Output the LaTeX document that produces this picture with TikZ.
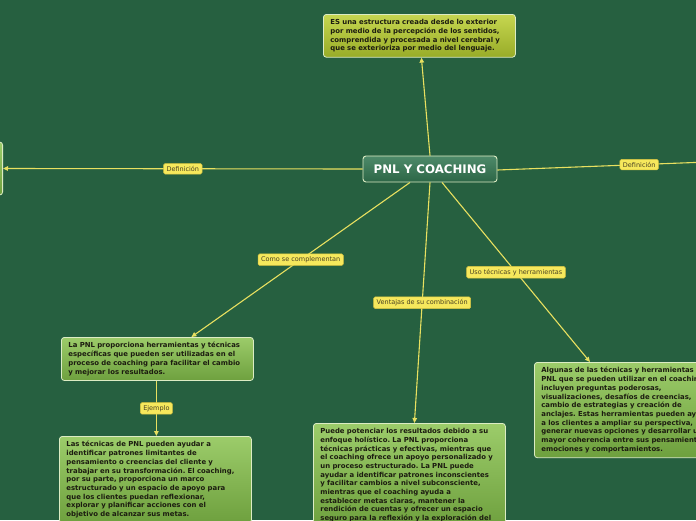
\documentclass[tikz,border=0pt]{standalone}
\usepackage{fontspec}
\setmainfont{DejaVu Sans}
\usetikzlibrary{arrows.meta}
\definecolor{board}{HTML}{266040}
\definecolor{wire}{HTML}{E8E060}
\definecolor{ink}{HTML}{1C1C10}
\definecolor{tagfill}{HTML}{F6E85C}
\definecolor{tagrim}{HTML}{D8C440}
\definecolor{tagink}{HTML}{4A4222}
\definecolor{oliveA}{HTML}{C6D650}
\definecolor{oliveB}{HTML}{98AC28}
\definecolor{leafA}{HTML}{9CCC6A}
\definecolor{leafB}{HTML}{6EA03E}
\definecolor{hubA}{HTML}{4E8A6A}
\definecolor{hubB}{HTML}{2C6646}
\definecolor{rim}{HTML}{DCECC4}
\frenchspacing

\begin{document}
\begin{tikzpicture}[x=1pt, y=-1pt, line width=1.1pt,
  note/.style={anchor=north west, text width=178pt, inner xsep=7pt, inner ysep=5pt,
    align=left, text=ink, rounded corners=3pt, draw=rim, line width=0.8pt,
    font=\fontsize{6.9}{8.7}\selectfont\bfseries},
  olive/.style={note, top color=oliveA, bottom color=oliveB},
  leaf/.style={note, top color=leafA, bottom color=leafB},
  tag/.style={fill=tagfill, draw=tagrim, line width=0.5pt, rounded corners=1.5pt,
    text=tagink, inner xsep=3pt, inner ysep=2.6pt, font=\fontsize{6.5}{7}\selectfont},
  link/.style={wire, -{Triangle[length=5pt,width=4.5pt]}}]
  \fill[board] (0,0) rectangle (696,520);
  \useasboundingbox (0,0) rectangle (696,520);
  \clip (0,0) rectangle (696,520);

  % central topic
  \node[top color=hubA, bottom color=hubB, draw=rim, line width=0.9pt, rounded corners=3pt,
    minimum width=134pt, minimum height=26pt, text=white,
    font=\fontsize{11.8}{13}\selectfont\bfseries] (hub) at (430,169) {PNL Y COACHING};

  % branches
  \node[olive] (deftop) at (323,14) {ES una estructura creada desde lo exterior\\
    por medio de la percepción de los sentidos,\\
    comprendida y procesada a nivel cerebral y\\
    que se exterioriza por medio del lenguaje.};
  \node[leaf, text width=0pt, minimum width=120pt, minimum height=53pt, anchor=east] (defl) at (3,168.5) {};
  \coordinate (defr) at (760,160);
  \node[leaf] (pnl) at (61,337) {La PNL proporciona herramientas y técnicas\\
    específicas que pueden ser utilizadas en el\\
    proceso de coaching para facilitar el cambio\\
    y mejorar los resultados.};
  \node[leaf] (ejem) at (59,436) {Las técnicas de PNL pueden ayudar a\\
    identificar patrones limitantes de\\
    pensamiento o creencias del cliente y\\
    trabajar en su transformación. El coaching,\\
    por su parte, proporciona un marco\\
    estructurado y un espacio de apoyo para\\
    que los clientes puedan reflexionar,\\
    explorar y planificar acciones con el\\
    objetivo de alcanzar sus metas.};
  \node[leaf] (pot) at (313,423) {Puede potenciar los resultados debido a su\\
    enfoque holístico. La PNL proporciona\\
    técnicas prácticas y efectivas, mientras que\\
    el coaching ofrece un apoyo personalizado y\\
    un proceso estructurado. La PNL puede\\
    ayudar a identificar patrones inconscientes\\
    y facilitar cambios a nivel subconsciente,\\
    mientras que el coaching ayuda a\\
    establecer metas claras, mantener la\\
    rendición de cuentas y ofrecer un espacio\\
    seguro para la reflexión y la exploración del};
  \node[leaf] (uso) at (534,362) {Algunas de las técnicas y herramientas de\\
    PNL que se pueden utilizar en el coaching\\
    incluyen preguntas poderosas,\\
    visualizaciones, desafíos de creencias,\\
    cambio de estrategias y creación de\\
    anclajes. Estas herramientas pueden ayudar\\
    a los clientes a ampliar su perspectiva,\\
    generar nuevas opciones y desarrollar una\\
    mayor coherencia entre sus pensamientos,\\
    emociones y comportamientos.};

  % connectors
  \draw[link] ([xshift=0pt]hub.north) -- ([xshift=2pt]deftop.south);
  \draw[link] (hub.west) -- node[tag] {Definición} (defl.east);
  \draw[wire] ([yshift=-1pt]hub.east) -- node[tag, pos=0.54] {Definición} (defr);
  \draw[link] ([xshift=-20pt]hub.south) -- node[tag] {Como se complementan} ([xshift=34pt]pnl.north);
  \draw[link] (hub.south) -- node[tag] {Ventajas de su combinación} ([xshift=5pt]pot.north);
  \draw[link] ([xshift=12pt]hub.south) -- node[tag] {Uso técnicas y herramientas} ([xshift=56pt]uso.north west);
  \draw[link] ([xshift=-1pt]pnl.south) -- node[tag] {Ejemplo} ([xshift=1pt]ejem.north);
\end{tikzpicture}
\end{document}
